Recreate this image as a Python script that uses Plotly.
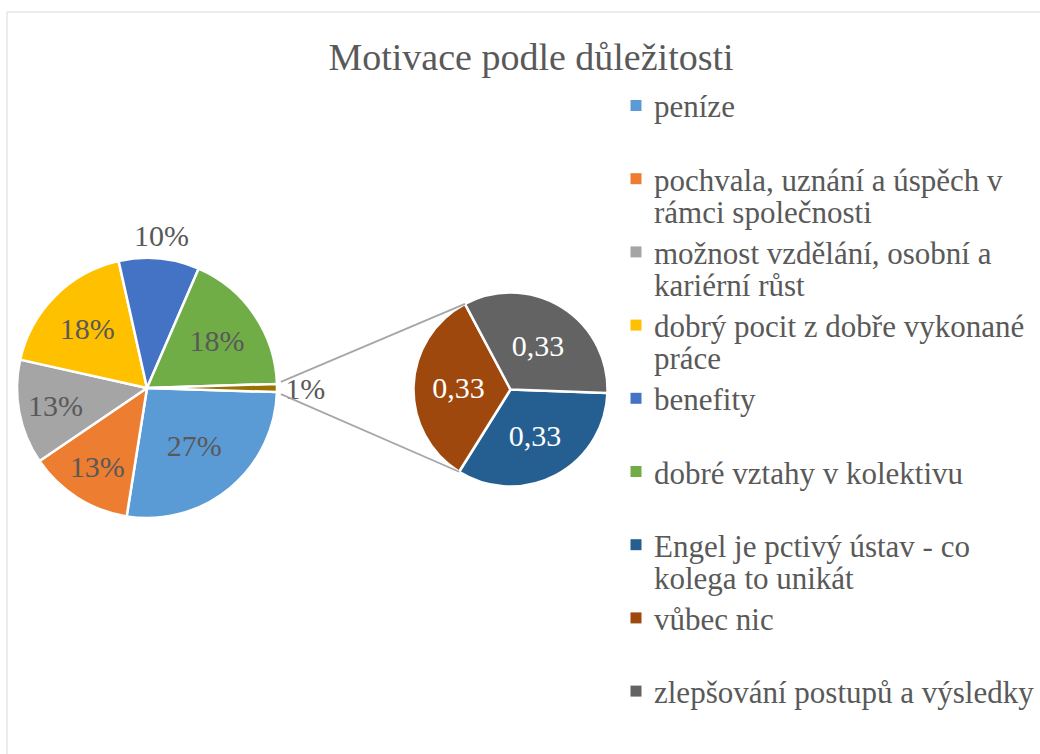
import math
import plotly.graph_objects as go

# ---------------- data ----------------
main_labels = [
    "peníze",
    "pochvala, uznání a úspěch v<br>rámci společnosti",
    "možnost vzdělání, osobní a<br>kariérní růst",
    "dobrý pocit z dobře vykonané<br>práce",
    "benefity",
    "dobré vztahy v kolektivu",
    "ostatní",
]
main_values = [27, 13, 13, 18, 10, 18, 1]
main_colors = ["#5B9BD5", "#ED7D31", "#A5A5A5", "#FFC000", "#4472C4", "#70AD47", "#997300"]

sub_labels = [
    "Engel je pctivý ústav - co<br>kolega to unikát",
    "vůbec nic",
    "zlepšování postupů a výsledky",
]
sub_values = [0.33, 0.33, 0.33]
sub_colors = ["#255E91", "#9E480E", "#636363"]

title_text = "Motivace podle důležitosti"

# ---------------- layout helpers ----------------
W, H = 1040, 754
FONT = "Liberation Serif"
TXT = "#595959"


def px(x):
    return x / W


def py(y):
    return 1 - y / H


# main pie geometry (pixels)
mcx, mcy, mr = 147, 388, 130
# secondary pie geometry
scx, scy, sr = 510.5, 389.5, 97

main_total = sum(main_values)
other_half = 360 * main_values[-1] / main_total / 2
main_rotation = 90 + other_half          # first slice starts just below 3 o'clock
sub_start = -2.0                          # math angle where the first sub slice begins
sub_rotation = 90 - sub_start

# which main slices get their label outside (benefity label is drawn above the slice)
outside_idx = 4
textpos = ["inside"] * len(main_values)
textpos[outside_idx] = "none"
textpos[-1] = "outside"

fig = go.Figure()

fig.add_trace(go.Pie(
    values=main_values,
    labels=[l.replace("<br>", " ") for l in main_labels],
    sort=False,
    direction="clockwise",
    rotation=main_rotation,
    marker=dict(colors=main_colors, line=dict(color="white", width=2.5)),
    texttemplate="%{percent:.0%}",
    textposition=textpos,
    insidetextorientation="horizontal",
    textfont=dict(family=FONT, size=30, color=TXT),
    domain=dict(x=[px(mcx - mr), px(mcx + mr)], y=[py(mcy + mr), py(mcy - mr)]),
    showlegend=False,
    hoverinfo="label+percent",
))

fig.add_trace(go.Pie(
    values=sub_values,
    labels=[l.replace("<br>", " ") for l in sub_labels],
    sort=False,
    direction="clockwise",
    rotation=sub_rotation,
    marker=dict(colors=sub_colors, line=dict(color="white", width=2.5)),
    texttemplate="%{value:.2f}",
    textposition="inside",
    insidetextorientation="horizontal",
    textfont=dict(family=FONT, size=30, color="white"),
    domain=dict(x=[px(scx - sr), px(scx + sr)], y=[py(scy + sr), py(scy - sr)]),
    showlegend=False,
    hoverinfo="label+value",
))

shapes = []
annotations = []
# chart frame (top and left edges visible)
shapes.append(dict(type="line", xref="paper", yref="paper",
                   x0=px(7), y0=py(12), x1=px(1045), y1=py(12),
                   line=dict(color="#D9D9D9", width=1)))
shapes.append(dict(type="line", xref="paper", yref="paper",
                   x0=px(7), y0=py(12), x1=px(7), y1=py(760),
                   line=dict(color="#D9D9D9", width=1)))

# label of the benefity slice, placed above its mid-angle
start_deg = 90 - main_rotation + 360  # math angle of first slice start
cum = sum(main_values[:outside_idx])
mid = start_deg - 360 * (cum + main_values[outside_idx] / 2) / main_total
lx = mcx + (mr + 23) * math.cos(math.radians(mid))
ly = mcy - (mr + 23) * math.sin(math.radians(mid))
annotations.append(dict(
    x=px(lx), y=py(ly), xref="paper", yref="paper", showarrow=False,
    text=f"{round(100 * main_values[outside_idx] / main_total)}%",
    xanchor="center", yanchor="middle",
    font=dict(family=FONT, size=30, color=TXT),
))

# connector lines between the "other" slice and the secondary pie
sub_total = sum(sub_values)
b_top = sub_start - 360 * (sub_values[0] + sub_values[1]) / sub_total + 360
b_bot = sub_start - 360 * sub_values[0] / sub_total
for a_main, a_sub in [(other_half + 0.8, b_top), (-other_half - 0.8, b_bot)]:
    x0 = mcx + (mr + 4) * math.cos(math.radians(a_main))
    y0 = mcy - (mr + 4) * math.sin(math.radians(a_main))
    x1 = scx + sr * math.cos(math.radians(a_sub))
    y1 = scy - sr * math.sin(math.radians(a_sub))
    shapes.append(dict(type="line", xref="paper", yref="paper",
                       x0=px(x0), y0=py(y0), x1=px(x1), y1=py(y1),
                       line=dict(color="#A6A6A6", width=1.75)))

# legend (squares + text lines)
legend_items = list(zip(main_labels[:-1], main_colors[:-1])) + list(zip(sub_labels, sub_colors))
first_y, slot, line_h = 107, 73.2, 32
sq_x, sq_s, txt_x = 636, 11, 652
for i, (lab, col) in enumerate(legend_items):
    yc = first_y + i * slot
    shapes.append(dict(type="rect", xref="paper", yref="paper",
                       x0=px(sq_x - sq_s / 2), x1=px(sq_x + sq_s / 2),
                       y0=py(yc - 1.5 + sq_s / 2), y1=py(yc - 1.5 - sq_s / 2),
                       fillcolor=col, line=dict(width=0)))
    for j, line in enumerate(lab.split("<br>")):
        annotations.append(dict(
            x=px(txt_x), y=py(yc + j * line_h), xref="paper", yref="paper",
            text=line, showarrow=False, xanchor="left", yanchor="middle",
            font=dict(family=FONT, size=31, color=TXT),
        ))

fig.update_layout(
    width=W, height=H,
    margin=dict(l=0, r=0, t=0, b=0),
    paper_bgcolor="white",
    plot_bgcolor="white",
    separators=", ",
    title=dict(text=title_text, x=px(531), y=py(57), xanchor="center", yanchor="middle",
               font=dict(family=FONT, size=38, color=TXT)),
    shapes=shapes,
    annotations=annotations,
)

fig.write_html("out.html", config={"displayModeBar": False},
               post_script="document.body.style.margin='0px';")
